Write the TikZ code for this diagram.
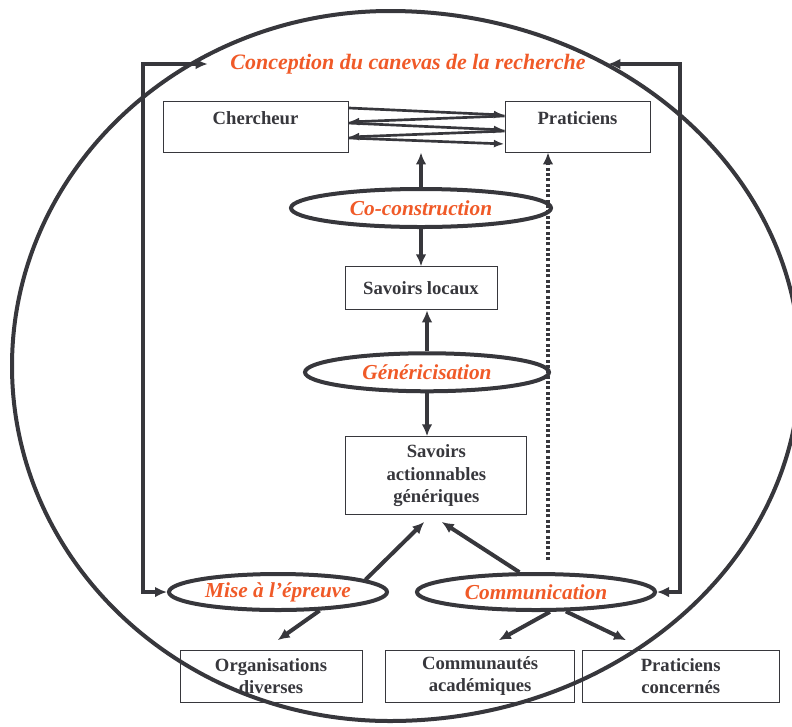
\documentclass[tikz,border=0pt]{standalone}
\usepackage{fontspec}
\setmainfont{Liberation Serif}
\usetikzlibrary{shapes, arrows.meta, positioning}
\definecolor{canred}{RGB}{240,90,40}
\definecolor{ink}{RGB}{55,55,60}

\begin{document}
\begin{tikzpicture}[x=0.75pt, y=-0.75pt,
    node distance=28pt and 17pt,
    box/.style={draw=ink, line width=0.7pt, text=ink, align=center, inner sep=2pt,
        font=\fontsize{14}{17}\selectfont\bfseries},
    topbox/.style={box, text height=10pt, text depth=13.75pt, inner ysep=7.25pt},
    oval/.style={ellipse, draw=ink, line width=3pt, inner sep=0pt, text=canred,
        font=\fontsize{16}{18}\selectfont\bfseries\itshape},
    arrow/.style={draw=ink, line width=3pt, -{Latex[length=9pt,width=8pt]}},
    duel/.style={draw=ink, line width=2pt, -{Latex[length=8pt,width=6pt]}},
    retour/.style={draw=ink, line width=3pt, {Latex[length=9pt,width=8pt]}-{Latex[length=9pt,width=8pt]}},
    dotline/.style={draw=ink, line width=3pt, dash pattern=on 2.2pt off 1.8pt, -{Latex[length=9pt,width=8pt]}}
    ]
    \useasboundingbox (0,0) rectangle (792,726);

    % grand cercle
    \begin{scope}
        \clip (0,0) rectangle (792,726);
        \draw[ink, line width=3pt] (390,11)
            arc[start angle=270, end angle=90, x radius=378, y radius=355]
            arc[start angle=90, end angle=-90, x radius=410, y radius=355];
    \end{scope}

    \node[text=canred, font=\fontsize{16.5}{18}\selectfont\bfseries\itshape, minimum width=300pt, inner sep=0pt] (canevas) at (408,64) {Conception du canevas de la recherche};
    \node[topbox, minimum width=138.75pt] (cherch) at (255.5,126.5) {Chercheur};
    \node[topbox, minimum width=108.75pt] (prat) at (577.5,126.5) {Praticiens};
    \node[oval, minimum width=195pt, minimum height=28.5pt] (cocon) at (421,208) {Co-construction};
    \node[box, minimum width=114pt, minimum height=32.25pt] (savloc) [below=of cocon] {Savoirs locaux};
    \node[oval, minimum width=183pt, minimum height=28.5pt] (gener) [below=30.75pt of savloc, xshift=4.5pt] {Généricisation};
    \node[box, minimum width=135.75pt, minimum height=58.5pt] (savact) [below=32.25pt of gener, xshift=7pt] {Savoirs\\ actionnables\\ génériques};
    \node[oval, minimum width=163.5pt, minimum height=27pt] (mise) at (278,592) {Mise à l’épreuve};
    \node[oval, minimum width=178.5pt, minimum height=27pt] (comm) [right=19.5pt of mise] {Communication};
    \node[box, minimum width=136.5pt, minimum height=39pt] (orgs) at (271,676) {Organisations\\ diverses};
    \node[box, minimum width=141.75pt, minimum height=39pt] (commu) [right=of orgs] {Communautés\\ académiques};
    \node[box, minimum width=147.75pt, minimum height=39pt] (prat2) [right=5pt of commu] {Praticiens\\ concernés};

    % echanges chercheur / praticiens
    \draw[duel] ([yshift=13.9pt]cherch.east) -- ([yshift=8.6pt]prat.west);
    \draw[duel] ([yshift=7.9pt]prat.west) -- ([yshift=3.4pt]cherch.east);
    \draw[duel] ([yshift=2.6pt]cherch.east) -- ([yshift=-2.6pt]prat.west);
    \draw[duel] ([yshift=-3.4pt]prat.west) -- ([yshift=-7.9pt]cherch.east);
    \draw[duel] ([yshift=-8.6pt]cherch.east) -- ([yshift=-13.1pt]prat.west);

    \coordinate (cptop) at (cocon |- cherch.south);
    \draw[arrow] (cocon.north) -- (cptop);
    \draw[arrow] (cocon.south) -- (savloc.north);
    \draw[arrow] (gener.north) -- (gener.north |- savloc.south);
    \draw[arrow] (gener.south) -- (gener.south |- savact.north);

    \coordinate (dotbas) at (548,560);
    \draw[dotline] (dotbas) -- (dotbas |- prat.south);

    \draw[arrow] (mise.8) -- ([xshift=-9pt,yshift=-5pt]savact.south);
    \draw[arrow] (comm.130) -- ([xshift=4pt,yshift=-5pt]savact.south);
    \draw[arrow] (mise.-24) -- ([xshift=5pt,yshift=7pt]orgs.north);
    \draw[arrow] (comm.-55) -- ([xshift=14pt,yshift=7pt]commu.north);
    \draw[arrow] (comm.-33) -- ([xshift=-41pt,yshift=7pt]prat2.north);

    % boucles de retour
    \coordinate (gcoin) at (143,64);
    \coordinate (dcoin) at (680,64);
    \draw[retour] (canevas.west) -- (gcoin) |- (mise.west);
    \draw[retour] (canevas.east) -- (dcoin) |- (comm.east);

\end{tikzpicture}
\end{document}
